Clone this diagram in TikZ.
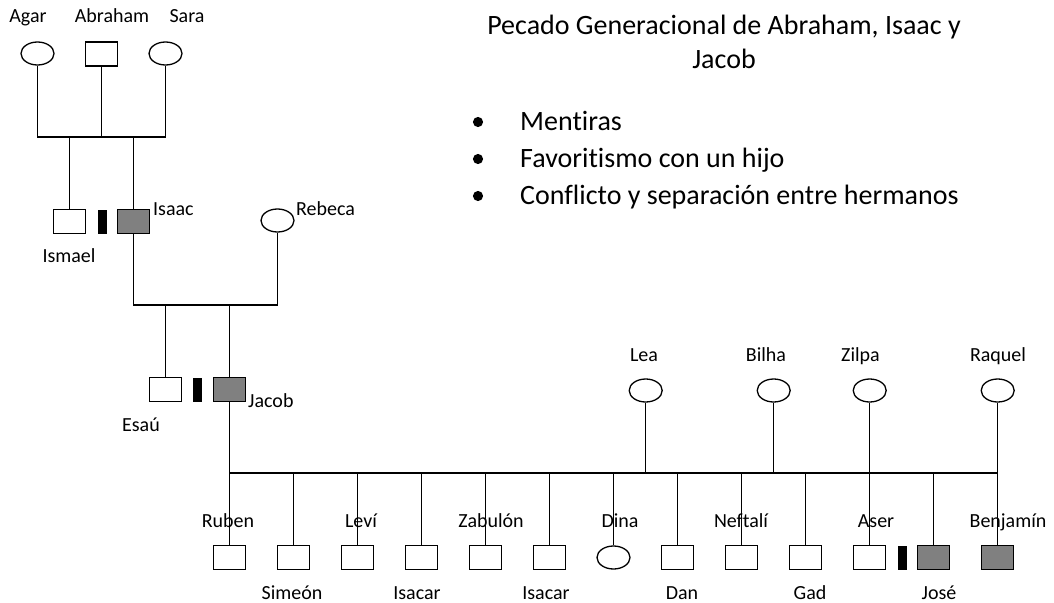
\documentclass[tikz,border=0pt]{standalone}
\usepackage{fontspec}
\setmainfont{Carlito}[Ligatures={NoCommon}]
\usetikzlibrary{shapes.geometric}
\definecolor{affgray}{HTML}{808080}
\begin{document}
\begin{tikzpicture}[x=1pt,y=-1pt,
  male/.style={draw, rectangle, line width=1.3pt, minimum width=32pt, minimum height=24pt, inner sep=0pt},
  female/.style={draw, ellipse, line width=1.3pt, minimum width=33pt, minimum height=23pt, inner sep=0pt},
  aff/.style={fill=affgray},
  sepbar/.style={draw, fill=black, rectangle, line width=0.8pt, minimum width=8pt, minimum height=23pt, inner sep=0pt},
  lbl/.style={font=\fontsize{20}{24}\selectfont, inner sep=0pt, text height=14pt, text depth=4pt},
  ttl/.style={font=\fontsize{28}{34}\selectfont, inner sep=0pt, text height=20pt, text depth=6pt},
  bul/.style={circle, draw=black, fill=black, line width=2pt, inner sep=0pt, minimum size=8pt},
  ln/.style={line width=1.5pt}
]
\useasboundingbox (0,0) rectangle (1054,602);

% generation 1
\node[female] (agar) at (37.5,53.5) {};
\node[male] (abraham) at (101.5,54) {};
\node[female] (sara) at (165.5,53.5) {};
\node[lbl] (lagar) at (28,18) {Agar};
\node[lbl] (labraham) at (112,18) {Abraham};
\node[lbl] (lsara) at (187,18) {Sara};

% generation 2
\node[male] (ismael) at (69.5,221.5) {};
\node[sepbar] (bar1) at (102,221.5) {};
\node[male, aff] (isaac) at (133.5,221.5) {};
\node[female] (rebeca) at (277.5,220.5) {};
\node[lbl] (lismael) at (69,257) {Ismael};
\node[lbl, anchor=west] (lisaac) at (153,210) {Isaac};
\node[lbl, anchor=west] (lrebeca) at (296,210) {Rebeca};

\coordinate (j1) at (101.5,137);
\draw[ln] (agar) -- (agar |- j1) -- (sara |- j1) -- (sara);
\draw[ln] (abraham) -- (j1);
\draw[ln] (ismael) -- (ismael |- j1);
\draw[ln] (isaac) -- (isaac |- j1);

% generation 3
\node[male] (esau) at (165.5,389.5) {};
\node[sepbar] (bar2) at (197.5,389.5) {};
\node[male, aff] (jacob) at (229.5,389.5) {};
\node[lbl] (lesau) at (141,426) {Esaú};
\node[lbl, anchor=west] (ljacob) at (248,402) {Jacob};

\coordinate (j2) at (200,305);
\draw[ln] (isaac) -- (isaac |- j2) -- (rebeca |- j2) -- (rebeca);
\draw[ln] (esau) -- (esau |- j2);
\draw[ln] (jacob) -- (jacob |- j2);

% wives of Jacob
\node[female] (lea) at (645.7,390.5) {};
\node[female] (bilha) at (773.7,390.5) {};
\node[female] (zilpa) at (869.7,390.5) {};
\node[female] (raquel) at (997.7,390.5) {};
\node[lbl] (llea) at (644,356) {Lea};
\node[lbl] (lbilha) at (766,356) {Bilha};
\node[lbl] (lzilpa) at (860.5,356) {Zilpa};
\node[lbl] (lraquel) at (998,356) {Raquel};

% generation 4
\node[male] (ruben) at (229.5,557.5) {};
\node[male] (simeon) at (293.5,557.5) {};
\node[male] (levi) at (357.5,557.5) {};
\node[male] (isacarA) at (421.5,557.5) {};
\node[male] (zabulon) at (485.5,557.5) {};
\node[male] (isacarB) at (549.5,557.5) {};
\node[female] (dina) at (613.5,557.5) {};
\node[male] (dan) at (677.5,557.5) {};
\node[male] (neftali) at (741.5,557.5) {};
\node[male] (gad) at (805.5,557.5) {};
\node[male] (aser) at (869.7,557.5) {};
\node[sepbar] (bar3) at (902,557.5) {};
\node[male, aff] (jose) at (933.5,557.5) {};
\node[male, aff] (benjamin) at (997.7,557.5) {};

\coordinate (j3) at (600,473);
\draw[ln] (jacob) -- (jacob |- j3) -- (raquel |- j3) -- (raquel);
\foreach \w in {lea,bilha,zilpa} \draw[ln] (\w) -- (\w |- j3);
\foreach \c in {ruben,simeon,levi,isacarA,zabulon,isacarB,dina,dan,neftali,gad,aser,jose,benjamin}
  \draw[ln] (\c) -- (\c |- j3);

\node[lbl] (lruben) at (228,522) {Ruben};
\node[lbl] (llevi) at (361,522) {Leví};
\node[lbl] (lzabulon) at (491,522) {Zabulón};
\node[lbl] (ldina) at (620,522) {Dina};
\node[lbl] (lneftali) at (741,522) {Neftalí};
\node[lbl] (laser) at (876,522) {Aser};
\node[lbl] (lbenjamin) at (1008,522) {Benjamín};
\node[lbl] (lsimeon) at (292,594) {Simeón};
\node[lbl] (lisacarA) at (417,594) {Isacar};
\node[lbl] (lisacarB) at (546,594) {Isacar};
\node[lbl] (ldan) at (682,594) {Dan};
\node[lbl] (lgad) at (810,594) {Gad};
\node[lbl] (ljose) at (939,594) {José};

% title and list
\node[ttl] (title1) at (724,28) {Pecado Generacional de Abraham, Isaac y};
\node[ttl] (title2) at (724,62) {Jacob};
\node[bul] (b1) at (478,122) {};
\node[bul] (b2) at (478,159) {};
\node[bul] (b3) at (478,196) {};
\node[ttl, anchor=west] (i1) at (520,123) {Mentiras};
\node[ttl, anchor=west] (i2) at (520,160) {Favoritismo con un hijo};
\node[ttl, anchor=west] (i3) at (520,197) {Conflicto y separación entre hermanos};
\end{tikzpicture}
\end{document}
